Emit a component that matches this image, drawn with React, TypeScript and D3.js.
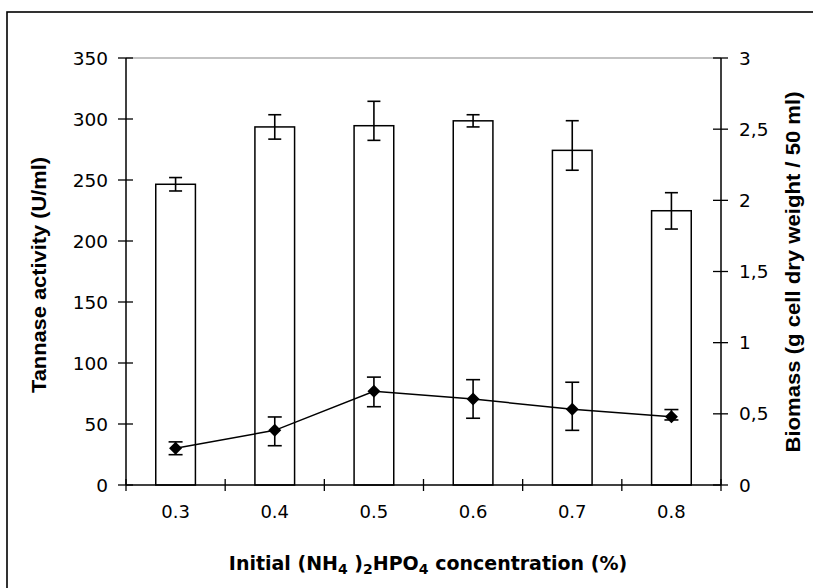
import React from 'react';
import * as d3 from 'd3';

const categories = ['0.3', '0.4', '0.5', '0.6', '0.7', '0.8'];
const tannase = [246.5, 293.5, 294.5, 298.5, 274.3, 224.8];
const tannaseErrUp = [5.5, 10, 20, 5, 24.3, 14.8];
const tannaseErrDown = [5.5, 10, 12, 5, 16.3, 15];
const biomass = [0.258, 0.384, 0.658, 0.604, 0.532, 0.48];
const biomassErrUp = [0.045, 0.094, 0.1, 0.136, 0.19, 0.05];
const biomassErrDown = [0.045, 0.108, 0.108, 0.135, 0.148, 0.023];
const leftTicks = [0, 50, 100, 150, 200, 250, 300, 350];
const rightTicks = [0, 0.5, 1, 1.5, 2, 2.5, 3];
const rightTickLabels = ['0', '0,5', '1', '1,5', '2', '2,5', '3'];

const W = 813;
const H = 588;
const X0 = 126;
const X1 = 721;
const Y0 = 485;
const Y1 = 58;

export default function App() {
  const x = d3.scaleBand<string>().domain(categories).range([X0, X1]).paddingInner(0.6).paddingOuter(0.3);
  const yL = d3.scaleLinear().domain([0, 350]).range([Y0, Y1]);
  const yR = d3.scaleLinear().domain([0, 3]).range([Y0, Y1]);
  const bw = x.bandwidth();
  const cx = (c: string) => (x(c) as number) + bw / 2;
  const line = d3.line<number>().x((_, i) => cx(categories[i])).y((d) => yR(d));
  const boundaries = d3.range(categories.length + 1).map((i) => X0 + i * (X1 - X0) / categories.length);
  const tickFont = 'DejaVu Sans, Verdana, sans-serif';
  const diamond = (px: number, py: number) => `M${px},${py - 6.5}L${px + 6.5},${py}L${px},${py + 6.5}L${px - 6.5},${py}Z`;
  return (
    <svg width={W} height={H} style={{ position: 'absolute', left: 0, top: 0, background: '#fff' }}>
      <rect x={7} y={12} width={900} height={700} fill="#fff" stroke="#000" strokeWidth={1.6} />
      <line x1={X0} x2={X1} y1={Y1} y2={Y1} stroke="#888" strokeWidth={1.2} />
      {categories.map((c, i) => (
        <rect key={c} x={x(c)} y={yL(tannase[i])} width={bw} height={Y0 - yL(tannase[i])} fill="#fff" stroke="#000" strokeWidth={1.5} />
      ))}
      {categories.map((c, i) => {
        const px = cx(c);
        const t = yL(tannase[i] + tannaseErrUp[i]);
        const b = yL(tannase[i] - tannaseErrDown[i]);
        return (
          <g key={'e' + c} stroke="#000" strokeWidth={1.6}>
            <line x1={px} x2={px} y1={t} y2={b} />
            <line x1={px - 6.5} x2={px + 6.5} y1={t} y2={t} />
            <line x1={px - 6.5} x2={px + 6.5} y1={b} y2={b} />
          </g>
        );
      })}
      <line x1={X0} x2={X0} y1={Y1} y2={Y0} stroke="#000" strokeWidth={1.5} />
      <line x1={X1} x2={X1} y1={Y1} y2={Y0} stroke="#000" strokeWidth={1.5} />
      <line x1={X0} x2={X1} y1={Y0} y2={Y0} stroke="#000" strokeWidth={1.5} />
      {leftTicks.map((t) => (
        <g key={'l' + t}>
          <line x1={X0 - 8} x2={X0 + 7} y1={yL(t)} y2={yL(t)} stroke="#000" strokeWidth={1.3} />
          <text x={108} y={yL(t)} dy="0.36em" textAnchor="end" fontFamily={tickFont} fontSize={18.5}>{t}</text>
        </g>
      ))}
      {rightTicks.map((t, i) => (
        <g key={'r' + t}>
          <line x1={X1 - 8} x2={X1 + 7} y1={yR(t)} y2={yR(t)} stroke="#000" strokeWidth={1.3} />
          <text x={739} y={yR(t)} dy="0.36em" textAnchor="start" fontFamily={tickFont} fontSize={18.5}>{rightTickLabels[i]}</text>
        </g>
      ))}
      {boundaries.map((b, i) => (
        <line key={'x' + i} x1={b} x2={b} y1={Y0 - 6} y2={Y0 + 6} stroke="#000" strokeWidth={1.3} />
      ))}
      {categories.map((c) => (
        <text key={'xl' + c} x={cx(c)} y={512} dy="0.36em" textAnchor="middle" fontFamily={tickFont} fontSize={18}>{c}</text>
      ))}
      <path d={line(biomass) as string} fill="none" stroke="#000" strokeWidth={1.5} />
      {categories.map((c, i) => {
        const px = cx(c);
        const t = yR(biomass[i] + biomassErrUp[i]);
        const b = yR(biomass[i] - biomassErrDown[i]);
        return (
          <g key={'b' + c} stroke="#000" strokeWidth={1.6}>
            <line x1={px} x2={px} y1={t} y2={b} />
            <line x1={px - 7} x2={px + 7} y1={t} y2={t} />
            <line x1={px - 7} x2={px + 7} y1={b} y2={b} />
            <path d={diamond(px, yR(biomass[i]))} fill="#000" stroke="none" />
          </g>
        );
      })}
      <text transform="translate(46,275) rotate(-90)" textAnchor="middle" fontFamily="Liberation Sans, Arial, sans-serif" fontWeight="bold" fontSize={20} textLength={236} lengthAdjust="spacingAndGlyphs">Tannase activity (U/ml)</text>
      <text transform="translate(800,272) rotate(-90)" textAnchor="middle" fontFamily="Liberation Sans, Arial, sans-serif" fontWeight="bold" fontSize={20} textLength={361} lengthAdjust="spacingAndGlyphs">Biomass (g cell dry weight / 50 ml)</text>
      <text x={428} y={570} textAnchor="middle" fontFamily={tickFont} fontWeight="bold" fontSize={19}>
        Initial (NH<tspan fontSize={14} dy={4}>4</tspan><tspan dy={-4}> )</tspan><tspan fontSize={14} dy={4}>2</tspan><tspan dy={-4}>HPO</tspan><tspan fontSize={14} dy={4}>4</tspan><tspan dy={-4}> concentration (%)</tspan>
      </text>
    </svg>
  );
}
